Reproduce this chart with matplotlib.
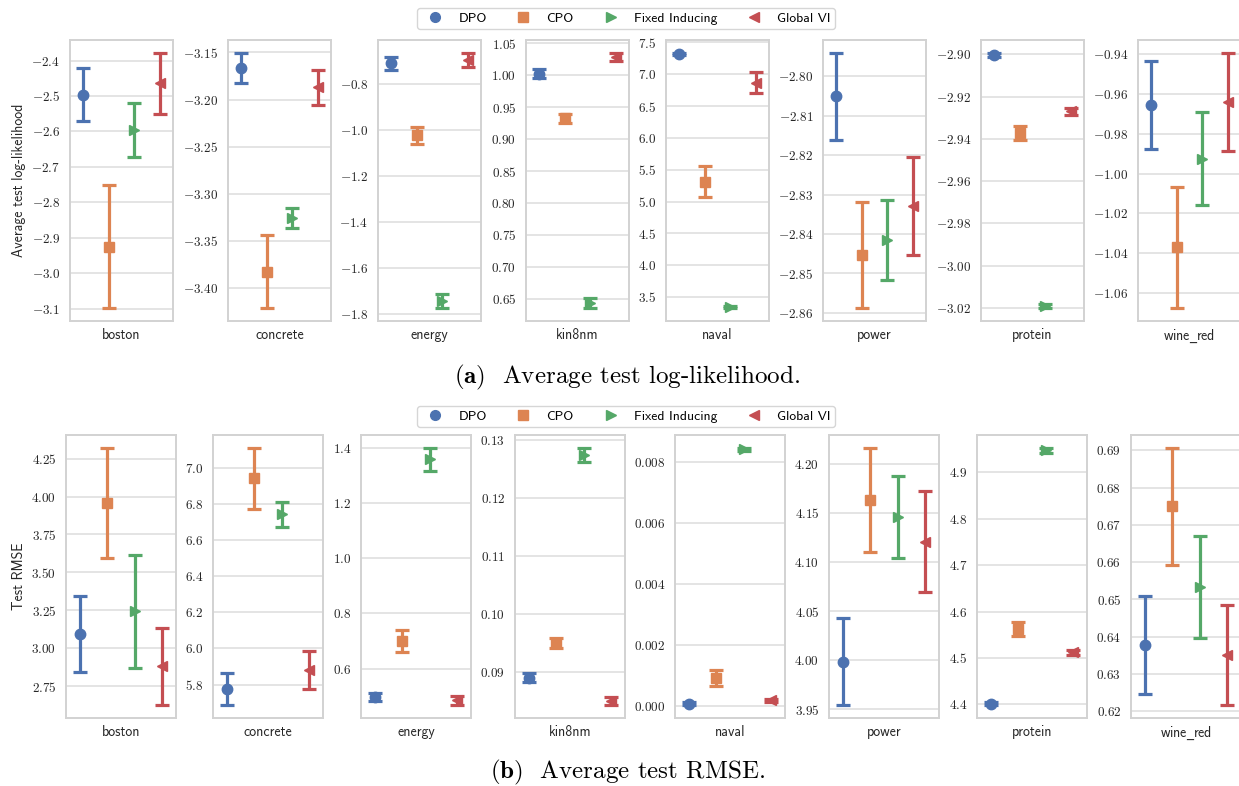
import matplotlib
matplotlib.use('Agg')
import matplotlib.pyplot as plt
from matplotlib.ticker import MultipleLocator, FuncFormatter
from matplotlib.lines import Line2D

plt.rcParams['font.family'] = ['cmss10', 'DejaVu Sans']
plt.rcParams['mathtext.fontset'] = 'cm'
plt.rcParams['axes.formatter.use_mathtext'] = True

datasets = ['boston', 'concrete', 'energy', 'kin8nm', 'naval', 'power', 'protein', 'wine_red']
methods = ['DPO', 'CPO', 'Fixed Inducing', 'Global VI']

# Average test log-likelihood (mean, error half-width) per method, across datasets
ll_dpo = [-2.496, -3.1666, -0.711, 1.0028, 7.317, -2.8051, -2.9003, -0.9657]
ll_dpo_err = [0.075, 0.0163, 0.028, 0.0075, 0.02, 0.011, 0.001, 0.0222]
ll_cpo = [-2.925, -3.383, -1.0234, 0.9326, 5.312, -2.8453, -2.9372, -1.037]
ll_cpo_err = [0.174, 0.039, 0.037, 0.0073, 0.24, 0.0135, 0.0035, 0.0304]
ll_fixed = [-2.596, -3.3262, -1.744, 0.6432, 3.343, -2.8415, -3.0191, -0.9925]
ll_fixed_err = [0.075, 0.011, 0.03, 0.008, 0.02, 0.0101, 0.001, 0.0231]
ll_gvi = [-2.464, -3.1868, -0.696, 1.0287, 6.869, -2.8329, -2.9269, -0.9642]
ll_gvi_err = [0.086, 0.0186, 0.03, 0.0066, 0.162, 0.0124, 0.0017, 0.0246]

# Average test RMSE
rm_dpo = [3.093, 5.7756, 0.4985, 0.0891, 0.00008, 3.9986, 4.4013, 0.6378]
rm_dpo_err = [0.253, 0.089, 0.014, 0.00075, 0.00005, 0.0444, 0.003, 0.0131]
rm_cpo = [3.958, 6.941, 0.700, 0.09504, 0.000925, 4.1633, 4.5626, 0.675]
rm_cpo_err = [0.363, 0.168, 0.039, 0.0009, 0.00026, 0.053, 0.015, 0.0157]
rm_fixed = [3.2425, 6.742, 1.358, 0.12742, 0.00841, 4.1459, 4.9475, 0.6532]
rm_fixed_err = [0.374, 0.07, 0.042, 0.0012, 0.00005, 0.042, 0.005, 0.0137]
rm_gvi = [2.880, 5.879, 0.485, 0.08507, 0.000196, 4.1207, 4.512, 0.6351]
rm_gvi_err = [0.256, 0.105, 0.017, 0.0007, 0.00005, 0.0515, 0.006, 0.0135]

# tick steps and decimals for each panel
ll_tick_step = [0.1, 0.05, 0.2, 0.05, 0.5, 0.01, 0.02, 0.02]
ll_tick_dec = [1, 2, 1, 2, 1, 2, 2, 2]
rm_tick_step = [0.25, 0.2, 0.2, 0.01, 0.002, 0.05, 0.1, 0.01]
rm_tick_dec = [2, 1, 1, 2, 3, 2, 1, 2]

colors = ['#4C72B0', '#DD8452', '#55A868', '#C44E52']
markers = ['o', 's', '>', '<']
xpos = [-0.375, -0.125, 0.125, 0.375]

W, H = 1239, 786
fig = plt.figure(figsize=(W / 100, H / 100), dpi=100)

top_left = [70, 228, 378, 526, 666, 823, 981, 1138]
bot_left = [66, 213, 361, 515, 675, 829, 977, 1131]


def px_axes(x0, y0, w, h):
    return fig.add_axes([x0 / W, 1 - (y0 + h) / H, w / W, h / H])


def label_text(ds):
    # LaTeX-style underscore: the bundled cmss10 font maps '_' to a dot accent
    return ds.replace('_', r'$\_$')


def draw_row(lefts, width, ytop, height, means, errs, steps, decs, ylabel):
    for i, ds in enumerate(datasets):
        ax = px_axes(lefts[i], ytop, width, height)
        for j in range(4):
            ax.errorbar(xpos[j], means[j][i], yerr=errs[j][i], fmt=markers[j],
                        color=colors[j], ms=7.5, elinewidth=2.3, capsize=4.8,
                        capthick=2.3, zorder=3)
        ax.set_xlim(-0.5, 0.5)
        ax.margins(y=0.05)
        ax.set_xticks([0])
        ax.set_xticklabels([label_text(ds)], fontsize=10, math_fontfamily='dejavusans')
        ax.yaxis.set_major_locator(MultipleLocator(steps[i]))
        d = decs[i]
        ax.yaxis.set_major_formatter(FuncFormatter(lambda v, p, d=d: f'${v:.{d}f}$'))
        ax.tick_params(axis='both', length=0, colors='#262626')
        ax.tick_params(axis='y', pad=7, labelsize=9.5)
        ax.tick_params(axis='x', pad=5)
        ax.grid(axis='y', color='#dcdcdc', linewidth=1.1)
        ax.set_axisbelow(True)
        for s in ax.spines.values():
            s.set_color('#d2d2d2')
            s.set_linewidth(1.4)
        if i == 0:
            ax.set_ylabel(ylabel, fontsize=10, color='#262626', labelpad=4)


draw_row(top_left, 103, 40, 281,
         [ll_dpo, ll_cpo, ll_fixed, ll_gvi],
         [ll_dpo_err, ll_cpo_err, ll_fixed_err, ll_gvi_err],
         ll_tick_step, ll_tick_dec, 'Average test log-likelihood')
draw_row(bot_left, 110, 435, 283,
         [rm_dpo, rm_cpo, rm_fixed, rm_gvi],
         [rm_dpo_err, rm_cpo_err, rm_fixed_err, rm_gvi_err],
         rm_tick_step, rm_tick_dec, 'Test RMSE')

handles = [Line2D([], [], linestyle='none', marker=markers[j], color=colors[j], ms=7)
           for j in range(4)]
for yc in [18.5 / H, 416.5 / H]:
    leg = fig.legend(handles, methods, loc='center', bbox_to_anchor=(626 / W, 1 - yc),
                     ncol=4, fontsize=9.8, frameon=True, handletextpad=0.7,
                     columnspacing=1.7, borderpad=0.3, fancybox=True)
    leg.get_frame().set_edgecolor('#cccccc')
    leg.get_frame().set_linewidth(1.0)

fig.text(627 / W, 1 - 377 / H, r'$\mathbf{(a)}$  Average test log-likelihood.',
         family='cmr10', fontsize=18, ha='center', va='center')
fig.text(627 / W, 1 - 772 / H, r'$\mathbf{(b)}$  Average test RMSE.',
         family='cmr10', fontsize=18, ha='center', va='center')

fig.savefig('out.png', dpi=100)
